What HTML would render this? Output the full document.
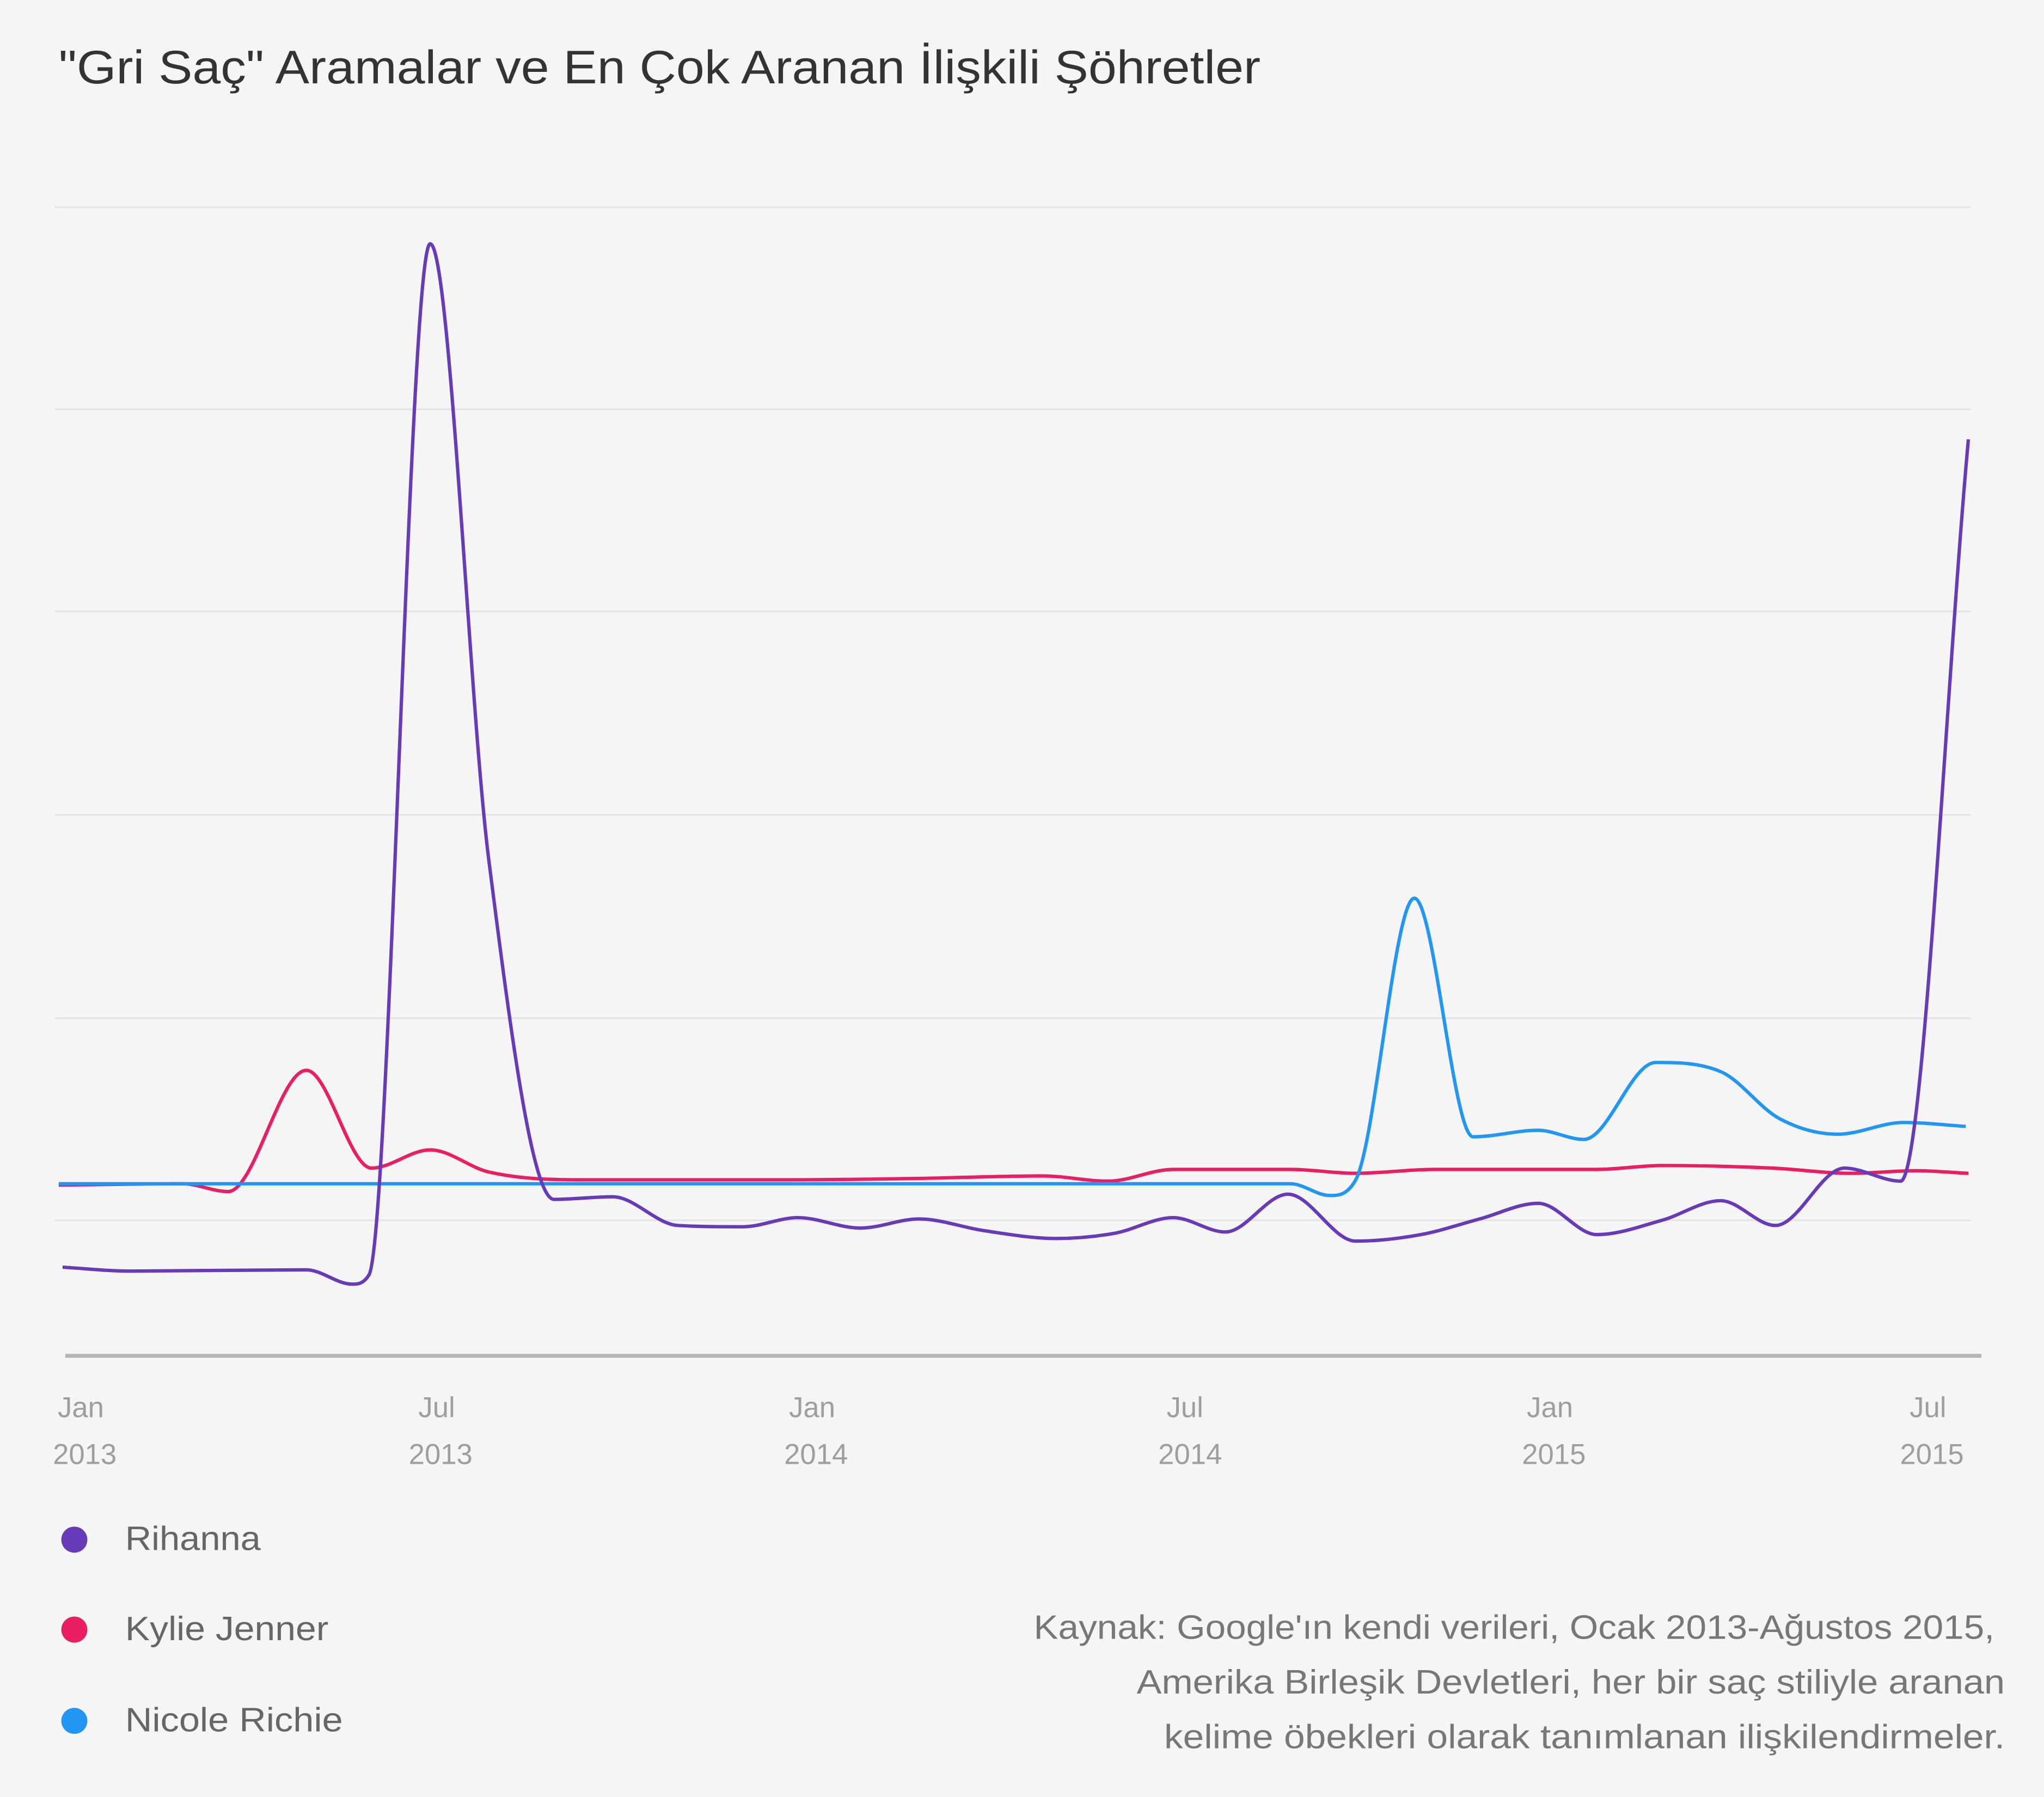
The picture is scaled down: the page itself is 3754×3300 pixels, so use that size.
<!DOCTYPE html>
<html><head><meta charset="utf-8"><style>
html,body{margin:0;padding:0;background:#f5f5f5;}
svg{display:block;}
text{font-family:"Liberation Sans",sans-serif;}
</style></head><body>
<svg id="s" width="3754" height="3300" viewBox="0 0 1568 1378.4" xmlns="http://www.w3.org/2000/svg">
<rect width="1568" height="1378.4" fill="#f5f5f5"/>
<text x="45" y="64" font-size="36" fill="#333" textLength="922" lengthAdjust="spacingAndGlyphs">"Gri Saç" Aramalar ve En Çok Aranan İlişkili Şöhretler</text>
<g stroke="#e2e2e2" stroke-width="1.2">
<line x1="42" y1="159" x2="1512" y2="159"/>
<line x1="42" y1="314" x2="1512" y2="314"/>
<line x1="42" y1="469" x2="1512" y2="469"/>
<line x1="42" y1="625" x2="1512" y2="625"/>
<line x1="42" y1="781" x2="1512" y2="781"/>
<line x1="42" y1="936" x2="1512" y2="936"/>
</g>
<line x1="50" y1="1040" x2="1520" y2="1040" stroke="#b5b5b5" stroke-width="3"/>
<g font-size="22" fill="#9e9e9e" text-anchor="middle">
<text x="62" y="1087">Jan</text><text x="65" y="1123">2013</text>
<text x="335" y="1087">Jul</text><text x="338" y="1123">2013</text>
<text x="623" y="1087">Jan</text><text x="626" y="1123">2014</text>
<text x="909" y="1087">Jul</text><text x="913" y="1123">2014</text>
<text x="1189" y="1087">Jan</text><text x="1192" y="1123">2015</text>
<text x="1479" y="1087">Jul</text><text x="1482" y="1123">2015</text>
</g>
<path id="kylie" fill="none" stroke="#e91e63" stroke-width="2.6"/>
<path id="nicole" fill="none" stroke="#2196f3" stroke-width="2.6"/>
<path id="rih" fill="none" stroke="#673ab7" stroke-width="2.6"/>
<circle cx="57" cy="1181" r="10" fill="#673ab7"/>
<circle cx="57" cy="1250" r="10" fill="#e91e63"/>
<circle cx="57" cy="1320" r="10" fill="#2196f3"/>
<g font-size="26" fill="#666">
<text x="96" y="1189" textLength="104" lengthAdjust="spacingAndGlyphs">Rihanna</text>
<text x="96" y="1258" textLength="156" lengthAdjust="spacingAndGlyphs">Kylie Jenner</text>
<text x="96" y="1328" textLength="167" lengthAdjust="spacingAndGlyphs">Nicole Richie</text>
</g>
<g font-size="26" fill="#777">
<text x="793" y="1257" textLength="737" lengthAdjust="spacingAndGlyphs">Kaynak: Google'ın kendi verileri, Ocak 2013-Ağustos 2015,</text>
<text x="872" y="1299" textLength="666" lengthAdjust="spacingAndGlyphs">Amerika Birleşik Devletleri, her bir saç stiliyle aranan</text>
<text x="893" y="1341" textLength="645" lengthAdjust="spacingAndGlyphs">kelime öbekleri olarak tanımlanan ilişkilendirmeler.</text>
</g>
</svg>
<script>
function mono(p){const n=p.length,d=[],m=[];
for(let i=0;i<n-1;i++)d.push((p[i+1][1]-p[i][1])/(p[i+1][0]-p[i][0]));
m[0]=d[0];m[n-1]=d[n-2];
for(let i=1;i<n-1;i++){m[i]=(d[i-1]*d[i]<=0)?0:(d[i-1]+d[i])/2;}
for(let i=0;i<n-1;i++){if(d[i]===0){m[i]=0;m[i+1]=0;continue;}const a=m[i]/d[i],b=m[i+1]/d[i],s=a*a+b*b;if(s>9){const t=3/Math.sqrt(s);m[i]=t*a*d[i];m[i+1]=t*b*d[i];}}
let s="M"+p[0][0]+","+p[0][1];
for(let i=0;i<n-1;i++){const h=(p[i+1][0]-p[i][0])/3;
s+=" C"+(p[i][0]+h)+","+(p[i][1]+m[i]*h)+" "+(p[i+1][0]-h)+","+(p[i+1][1]-m[i+1]*h)+" "+p[i+1][0]+","+p[i+1][1];}
return s;}
const R=[[48,972],[100,975],[235,974],[270,985],[283,978],[330,187],[375,660],[425,920],[470,918],[520,940],[570,941],[612,934],[660,942],[705,935],[755,944],[810,950],[855,946],[900,934],[940,945],[988,916],[1040,952],[1090,947],[1135,935],[1180,923],[1225,947],[1275,936],[1320,921],[1362,940],[1415,896],[1458,906],[1510,337]];
const K=[[45,909],[140,908],[175,914],[235,821],[285,896],[330,882],[375,899],[450,905],[600,905],[700,904],[800,902],[850,906],[900,897],[990,897],[1040,900],[1100,897],[1225,897],[1275,894],[1360,896],[1420,900],[1470,898],[1510,900]];
const N=[[45,908],[500,908],[990,908],[1020,917],[1040,905],[1085,689],[1130,872],[1180,867],[1215,874],[1270,815],[1320,822],[1365,858],[1410,870],[1460,861],[1508,864]];
document.getElementById("rih").setAttribute("d",mono(R));
document.getElementById("kylie").setAttribute("d",mono(K));
document.getElementById("nicole").setAttribute("d",mono(N));
</script>
</body></html>
